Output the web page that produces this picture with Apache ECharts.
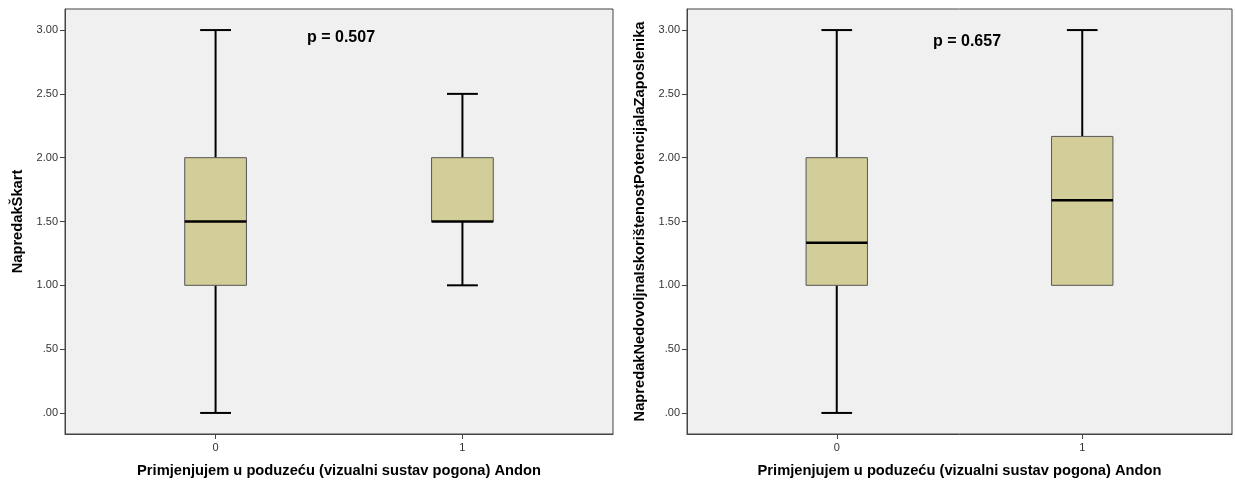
<!DOCTYPE html>
<html><head><meta charset="utf-8">
<script src="https://cdn.jsdelivr.net/npm/echarts@6/dist/echarts.min.js"></script>
<style>html,body{margin:0;padding:0;background:#fff}#c{width:1235px;height:483px}</style>
</head><body><div id="c"></div>
<script>
// ---- data ----
const groups = [0, 1];
const groupLabels = ['0', '1'];
const yTicks = [0, 0.5, 1, 1.5, 2, 2.5, 3];
// [min, Q1, median, Q3, max]
const skartStats = [[0, 1, 1.5, 2, 3], [1, 1.5, 1.5, 2, 2.5]];
const potencijalStats = [[0, 1, 1.3333, 2, 3], [1, 1, 1.6667, 2.1667, 3]];
const pValues = ['p = 0.507', 'p = 0.657'];
const xTitle = 'Primjenjujem u poduzeću (vizualni sustav pogona) Andon';
const yTitles = ['NapredakŠkart', 'NapredakNedovoljnaIskorištenostPotencijalaZaposlenika'];

const FONT = '"Liberation Sans", Arial, sans-serif';
const chart = echarts.init(document.getElementById('c'), null, {renderer: 'canvas'});

function fmt(v) {
  let s = Number(v).toFixed(2);
  if (s.startsWith('0')) s = s.slice(1);
  return s;
}

function renderBox(params, api) {
  const x = api.value(0);
  const mn = api.value(1), q1 = api.value(2), md = api.value(3), q3 = api.value(4), mx = api.value(5);
  const half = api.size([0.25, 0])[0] / 2;
  const capHalf = half / 2;
  const pMin = api.coord([x, mn]), pQ1 = api.coord([x, q1]), pMd = api.coord([x, md]),
        pQ3 = api.coord([x, q3]), pMax = api.coord([x, mx]);
  const cx = pMd[0];
  const ls = {stroke: '#000', lineWidth: 2};
  const ch = [];
  if (mx > q3) {
    ch.push({type: 'line', shape: {x1: cx, y1: pQ3[1], x2: cx, y2: pMax[1]}, style: ls});
    ch.push({type: 'line', shape: {x1: cx - capHalf, y1: pMax[1], x2: cx + capHalf, y2: pMax[1]}, style: ls});
  }
  if (mn < q1) {
    ch.push({type: 'line', shape: {x1: cx, y1: pQ1[1], x2: cx, y2: pMin[1]}, style: ls});
    ch.push({type: 'line', shape: {x1: cx - capHalf, y1: pMin[1], x2: cx + capHalf, y2: pMin[1]}, style: ls});
  }
  ch.push({type: 'rect', shape: {x: cx - half, y: pQ3[1], width: 2 * half, height: pQ1[1] - pQ3[1]},
           style: {fill: '#d3ce99', stroke: '#555', lineWidth: 1}});
  ch.push({type: 'line', shape: {x1: cx - half, y1: pMd[1], x2: cx + half, y2: pMd[1]},
           style: {stroke: '#000', lineWidth: 2.5}});
  return {type: 'group', children: ch};
}

const grids = [
  {left: 65, top: 9, width: 548, height: 425},
  {left: 687, top: 9, width: 545, height: 425}
];
const statsList = [skartStats, potencijalStats];

const option = {
  backgroundColor: '#fff',
  animation: false,
  grid: grids.map(g => Object.assign({show: true, backgroundColor: '#f0f0f0', borderColor: '#444', borderWidth: 1}, g)),
  xAxis: grids.map((g, i) => ({
    type: 'value', gridIndex: i, min: -0.61, max: 1.61,
    axisLine: {show: true, onZero: false, lineStyle: {color: '#444'}},
    axisTick: {show: true, customValues: groups, length: 5, lineStyle: {color: '#444'}},
    axisLabel: {customValues: groups, formatter: v => groupLabels[groups.indexOf(v)], color: '#333', fontSize: 11, margin: 8, fontFamily: FONT},
    splitLine: {show: false},
    name: xTitle, nameLocation: 'middle', nameGap: 29,
    nameTextStyle: {fontWeight: 'bold', fontSize: 14.7, color: '#000', fontFamily: FONT}
  })),
  yAxis: grids.map((g, i) => ({
    type: 'value', gridIndex: i, min: -0.165, max: 3.165,
    axisLine: {show: true, onZero: false, lineStyle: {color: '#444'}},
    axisTick: {show: true, customValues: yTicks, length: 5, lineStyle: {color: '#444'}},
    axisLabel: {customValues: yTicks, formatter: v => fmt(v), color: '#333', fontSize: 11, margin: 7, fontFamily: FONT},
    splitLine: {show: false},
    name: yTitles[i], nameLocation: 'middle', nameGap: 40,
    nameTextStyle: {fontWeight: 'bold', fontSize: 14.7, color: '#000', fontFamily: FONT}
  })),
  series: statsList.map((st, i) => ({
    type: 'custom', xAxisIndex: i, yAxisIndex: i, clip: false,
    renderItem: renderBox,
    encode: {x: 0, y: [1, 2, 3, 4, 5]},
    data: groups.map((gv, k) => [gv].concat(st[k]))
  })),
  graphic: [
    {type: 'text', left: 307, top: 30, style: {text: pValues[0], font: 'bold 16px ' + FONT, fill: '#000'}},
    {type: 'text', left: 933, top: 34, style: {text: pValues[1], font: 'bold 16px ' + FONT, fill: '#000'}}
  ]
};
chart.setOption(option);
</script>
</body></html>
